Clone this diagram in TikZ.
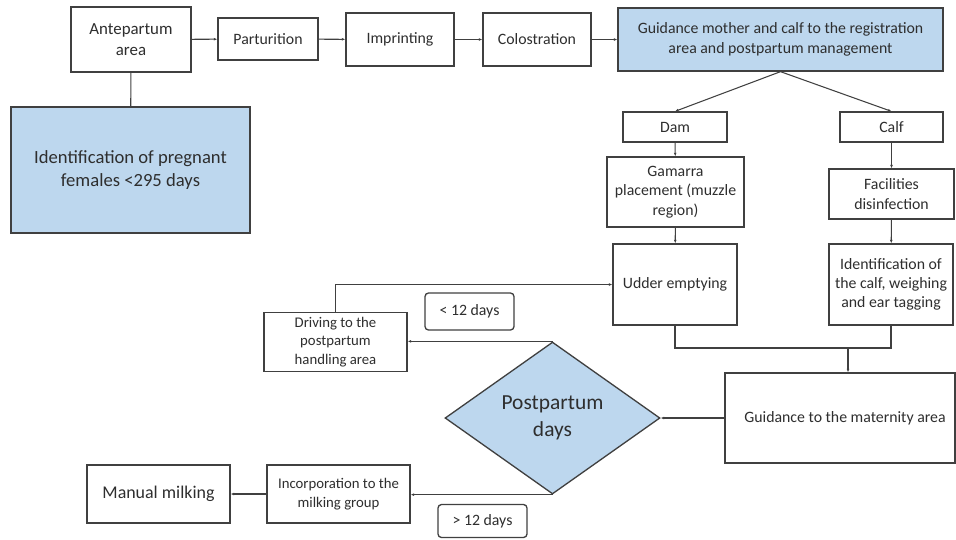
\documentclass[tikz,border=0pt]{standalone}
\usepackage{fontspec}
\setmainfont{Carlito}
\usepackage{tikz}
\usetikzlibrary{arrows.meta,shapes.geometric}
\definecolor{edgegray}{HTML}{404040}
\definecolor{textgray}{HTML}{2E2E2E}
\definecolor{paleblue}{HTML}{BDD7EE}

\begin{document}
\begin{tikzpicture}[x=0.02cm,y=-0.02cm,
  box/.style={draw=edgegray,line width=0.75pt,fill=white,text=textgray,align=center,inner sep=1pt,font=\fontsize{9}{11}\selectfont},
  bluebox/.style={box,fill=paleblue},
  smallbox/.style={box,font=\fontsize{8.4}{10.4}\selectfont},
  daybox/.style={box,rounded corners=2pt},
  link/.style={draw=edgegray,line width=0.6pt},
  arr/.style={link,-{Latex[length=2pt,width=1.6pt]}}]
\useasboundingbox(0,0)rectangle(956,539);
\node[box,minimum width=2.4cm,minimum height=1.3cm,font=\fontsize{9.6}{12}\selectfont](ante)at(131,39.5){Antepartum\\area};
\node[box,minimum width=2.0cm,minimum height=0.84cm](part)at(268,39){Parturition};
\node[box,minimum width=2.16cm,minimum height=1.06cm](imp)at(400,39.5){Imprinting};
\node[box,minimum width=2.16cm,minimum height=1.06cm](colo)at(537,39.5){Colostration};
\node[bluebox,minimum width=6.5cm,minimum height=1.26cm](guid)at(780.5,39.5){Guidance mother and calf to the registration\\area and postpartum management};
\node[bluebox,minimum width=4.78cm,minimum height=2.52cm,font=\fontsize{10.6}{13.4}\selectfont](ident)at(130.5,170){Identification of pregnant\\females <295 days};
\node[box,minimum width=2.08cm,minimum height=0.6cm](dam)at(675,127){Dam};\node[box,minimum width=2.06cm,minimum height=0.6cm](calf)at(891.5,127){Calf};
\node[box,minimum width=2.74cm,minimum height=1.4cm](gam)at(675.5,192){Gamarra\\placement (muzzle\\region)};
\node[box,minimum width=2.5cm,minimum height=1.0cm](fac)at(891.5,194){Facilities\\disinfection};
\node[box,minimum width=2.48cm,minimum height=1.62cm](udder)at(675,284.5){Udder emptying};
\node[box,minimum width=2.48cm,minimum height=1.62cm](idcalf)at(891,284.5){Identification of\\the calf, weighing\\and ear tagging};
\node[box,minimum width=4.6cm,minimum height=1.8cm](mat)at(840,418){\hspace{0.2cm}Guidance to the maternity area};
\node[diamond,draw=edgegray,line width=0.75pt,fill=paleblue,text=textgray,align=center,inner sep=0pt,minimum width=4.3cm,minimum height=3.04cm,font=\fontsize{12.2}{15}\selectfont](pp)at(552.5,418){Postpartum\\days};
\node[smallbox,minimum width=2.86cm,minimum height=1.18cm,inner sep=0pt](drive)at(335.5,342){Driving to the\\postpartum\\handling area};
\node[daybox,minimum width=1.78cm,minimum height=0.74cm](lt)at(469.5,311.5){< 12 days};
\node[smallbox,minimum width=2.86cm,minimum height=1.16cm](incorp)at(338.5,494){Incorporation to the\\milking group};
\node[box,minimum width=2.86cm,minimum height=1.16cm,font=\fontsize{10.2}{12}\selectfont](manual)at(158.5,494){Manual milking};
\node[daybox,minimum width=1.78cm,minimum height=0.66cm](gt)at(482.5,521){> 12 days};
\coordinate(merge)at(848,348);
\draw[arr](ante)--(part);\draw[arr](part)--(imp);\draw[arr](imp)--(colo);\draw[arr](colo)--(guid);
\draw[link](ante)--(ident);
\draw[arr](guid.south)--(dam.north);\draw[arr](guid.south)--(calf.north);
\draw[arr](dam)--(gam);\draw[arr](gam)--(udder);\draw[arr](calf)--(fac);\draw[arr](fac)--(idcalf);
\draw[link](udder.south)|-(merge)-|(idcalf.south);\draw[arr](merge)--(merge|-mat.north);
\draw[arr](mat.west)--(pp.east);
\draw[arr](pp.north)--(drive.east|-pp.north);\draw[arr](drive.north)|-(udder.west);
\draw[arr](pp.south)--(incorp.east|-pp.south);\draw[arr](incorp)--(manual);
\end{tikzpicture}
\end{document}
